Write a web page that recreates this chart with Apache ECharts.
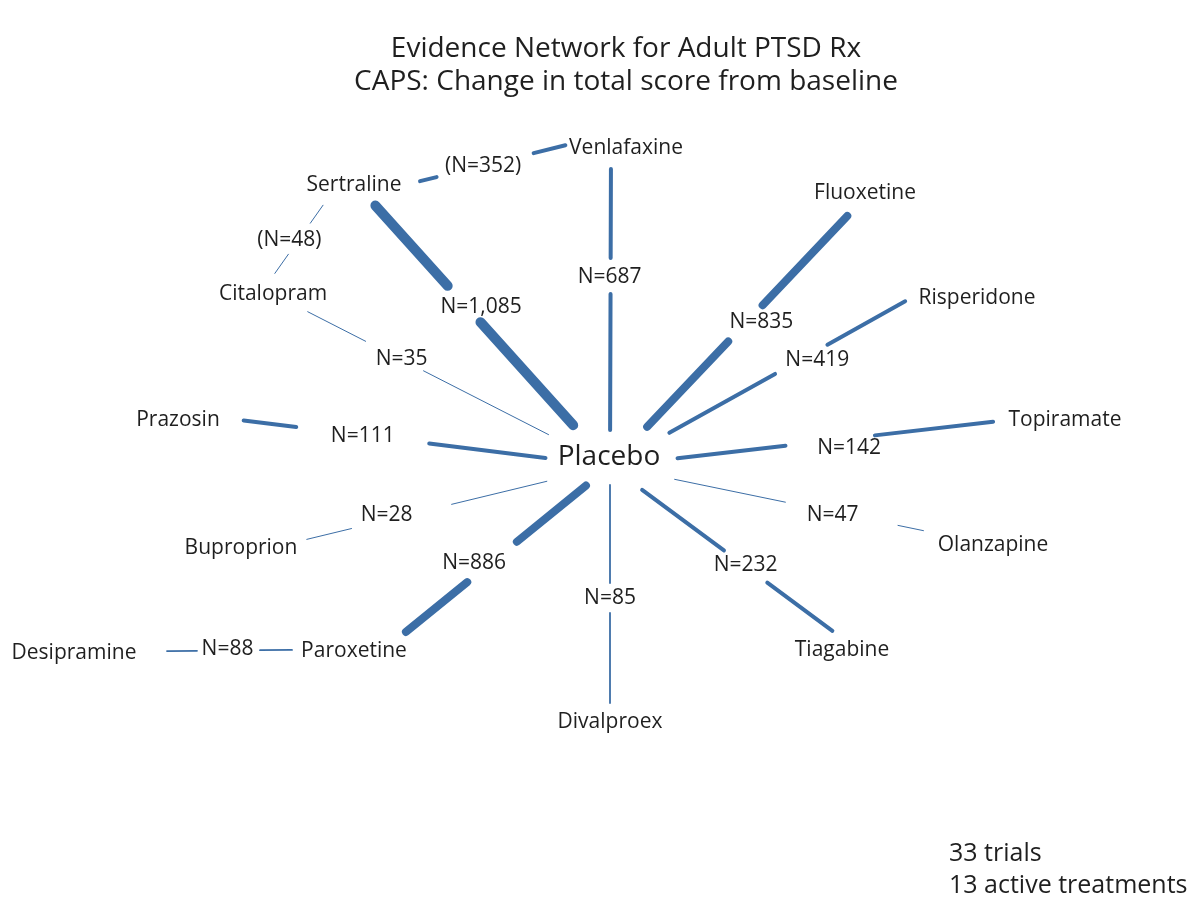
<!DOCTYPE html>
<html>
<head>
<meta charset="utf-8">
<script src="https://cdn.jsdelivr.net/npm/echarts@6/dist/echarts.min.js"></script>
<style>
  html, body { margin: 0; padding: 0; background: #ffffff; }
  #chart { width: 1195px; height: 899px; }
</style>
</head>
<body>
<div id="chart"></div>
<script>
// ---- Data -------------------------------------------------------------
// Treatments in the evidence network
const treatments = [
  'Placebo', 'Sertraline', 'Venlafaxine', 'Fluoxetine', 'Risperidone',
  'Topiramate', 'Olanzapine', 'Tiagabine', 'Divalproex', 'Paroxetine',
  'Desipramine', 'Buproprion', 'Prazosin', 'Citalopram'
];

// Direct comparisons: the two arms and the number of patients
const edgeFrom = [
  'Sertraline', 'Venlafaxine', 'Fluoxetine', 'Risperidone', 'Topiramate',
  'Olanzapine', 'Tiagabine', 'Divalproex', 'Paroxetine', 'Buproprion',
  'Prazosin', 'Citalopram', 'Sertraline', 'Sertraline', 'Desipramine'
];
const edgeTo = [
  'Placebo', 'Placebo', 'Placebo', 'Placebo', 'Placebo',
  'Placebo', 'Placebo', 'Placebo', 'Placebo', 'Placebo',
  'Placebo', 'Placebo', 'Venlafaxine', 'Citalopram', 'Paroxetine'
];
const edgeN = [1085, 687, 835, 419, 142, 47, 232, 85, 886, 28, 111, 35, 352, 48, 88];
// Head-to-head active comparisons whose counts are shown in brackets
const edgeBracketed = [false, false, false, false, false, false, false, false,
  false, false, false, false, true, true, false];

const titleText = 'Evidence Network for Adult PTSD Rx';
const subtitleText = 'CAPS: Change in total score from baseline';
const footnoteLines = ['33 trials', '13 active treatments'];

// ---- Layout -----------------------------------------------------------
// hub: where the node's lines meet; label: where its name is written
const nodeLayout = {
  Placebo:     { hub: [610, 466], label: [609, 457] },
  Sertraline:  { hub: [356, 184], label: [354, 185] },
  Venlafaxine: { hub: [611, 147], label: [626, 148] },
  Fluoxetine:  { hub: [870, 192], label: [865, 193] },
  Risperidone: { hub: [920, 293], label: [977, 298] },
  Topiramate:  { hub: [1008, 420], label: [1065, 420] },
  Olanzapine:  { hub: [993, 545], label: [993, 545] },
  Tiagabine:   { hub: [842, 638], label: [842, 650] },
  Divalproex:  { hub: [610, 721], label: [610, 722] },
  Paroxetine:  { hub: [385, 649], label: [354, 651] },
  Desipramine: { hub: [71, 652],  label: [74, 653] },
  Buproprion:  { hub: [300, 541], label: [241, 548] },
  Prazosin:    { hub: [200, 415], label: [178, 420] },
  Citalopram:  { hub: [273, 294], label: [273, 294] }
};

// Per edge: cut = [trim at start, break start, break end, trim at end] (px along the line),
// shift = nudge of the count label from the middle of the break,
// ports = optional offsets of the two attachment points from the hubs
const edgeLayout = [
  { cut: [24, 142, 181, 50], shift: [17, 3] },
  { cut: [20, 113, 145, 34], shift: [-1, 1] },
  { cut: [29, 160, 202, 50], shift: [16, -1] },
  { cut: [15, 108, 164, 66], shift: [16, 1] },
  { cut: [13, 136, 222, 66], shift: [19, 7] },
  { cut: [71, 97, 212, 66],  shift: [-9, 1] },
  { cut: [10, 95, 145, 38],  shift: [0, -2] },
  { cut: [18, 108, 138, 19], shift: [0, 0] },
  { cut: [23, 110, 166, 27], shift: [-18, 1] },
  { cut: [7, 53, 156, 65],   shift: [-15, -1] },
  { cut: [42, 99, 229, 63],  shift: [0, 1] },
  { cut: [39, 104, 169, 69], shift: [7, 3] },
  { cut: [64, 85, 181, 45],  shift: [-2, 1], ports: [0, 13, 0, -13] },
  { cut: [26, 48, 86, 24],   shift: [-10, 1], ports: [-18, 0, -12, -1] },
  { cut: [96, 126, 189, 93], shift: [-1, -1] }
];

// ---- Style ------------------------------------------------------------
const FONT = '"Open Sans", "Noto Sans", sans-serif';
const TEXT_COLOR = '#1f1f1f';
const EDGE_COLOR = '#3c6ea6';

// Line weight grows with the number of patients in the comparison
function edgeWidth(n) {
  if (n >= 1000) return 10;
  if (n >= 800) return 8;
  if (n >= 100) return 4;
  if (n >= 80) return 1.8;
  return 1;
}

function edgeLabel(i) {
  const s = 'N=' + edgeN[i].toLocaleString('en-US');
  return edgeBracketed[i] ? '(' + s + ')' : s;
}

function renderEdge(params, api) {
  const i = params.dataIndex;
  const lay = edgeLayout[i];
  const p = lay.ports || [0, 0, 0, 0];
  const A = nodeLayout[edgeFrom[i]].hub;
  const B = nodeLayout[edgeTo[i]].hub;
  const a = [A[0] + p[0], A[1] + p[1]];
  const b = [B[0] + p[2], B[1] + p[3]];
  const len = Math.hypot(b[0] - a[0], b[1] - a[1]);
  const u = [(b[0] - a[0]) / len, (b[1] - a[1]) / len];
  const at = d => api.coord([a[0] + u[0] * d, a[1] + u[1] * d]);
  const w = edgeWidth(edgeN[i]);
  const cap = w > 2 ? w / 2 : 0;
  const [t0, g0, g1, t1] = lay.cut;
  const s1 = at(t0 + cap), e1 = at(g0 - cap);
  const s2 = at(g1 + cap), e2 = at(len - t1 - cap);
  const mid = at((g0 + g1) / 2);
  const lineStyle = { stroke: EDGE_COLOR, lineWidth: w, lineCap: 'round' };
  return {
    type: 'group',
    children: [
      { type: 'line', shape: { x1: s1[0], y1: s1[1], x2: e1[0], y2: e1[1] }, style: lineStyle },
      { type: 'line', shape: { x1: s2[0], y1: s2[1], x2: e2[0], y2: e2[1] }, style: lineStyle },
      {
        type: 'text',
        x: mid[0] + lay.shift[0],
        y: mid[1] + lay.shift[1],
        style: {
          text: edgeLabel(i), fill: TEXT_COLOR, fontSize: 21, fontFamily: FONT,
          align: 'center', verticalAlign: 'middle'
        }
      }
    ]
  };
}

function renderNode(params, api) {
  const name = treatments[params.dataIndex];
  const pos = api.coord(nodeLayout[name].label);
  return {
    type: 'text',
    x: pos[0],
    y: pos[1],
    style: {
      text: name, fill: TEXT_COLOR,
      fontSize: name === 'Placebo' ? 28 : 21, fontFamily: FONT,
      align: 'center', verticalAlign: 'middle'
    }
  };
}

const chart = echarts.init(document.getElementById('chart'), null, { renderer: 'canvas' });

chart.setOption({
  backgroundColor: '#ffffff',
  animation: false,
  title: {
    text: titleText,
    subtext: subtitleText,
    left: 626,
    top: 33,
    textAlign: 'center',
    padding: 0,
    itemGap: 0,
    textStyle: { fontFamily: FONT, fontSize: 28, fontWeight: 'normal', color: TEXT_COLOR, lineHeight: 33 },
    subtextStyle: { fontFamily: FONT, fontSize: 28, fontWeight: 'normal', color: TEXT_COLOR, lineHeight: 33 }
  },
  grid: { left: 0, right: 0, top: 0, bottom: 0 },
  xAxis: { type: 'value', min: 0, max: 1195, show: false },
  yAxis: { type: 'value', min: 0, max: 899, inverse: true, show: false },
  graphic: [{
    type: 'text',
    left: 949,
    top: 838,
    style: {
      text: footnoteLines.join('\n'),
      fill: TEXT_COLOR, fontSize: 25, fontFamily: FONT, lineHeight: 32
    }
  }],
  series: [
    {
      name: 'Comparisons',
      type: 'custom',
      coordinateSystem: 'cartesian2d',
      renderItem: renderEdge,
      data: edgeN.map((n, i) => ({ name: edgeFrom[i] + ' vs ' + edgeTo[i], value: [i, n] })),
      z: 2
    },
    {
      name: 'Treatments',
      type: 'custom',
      coordinateSystem: 'cartesian2d',
      renderItem: renderNode,
      data: treatments.map((t, i) => ({ name: t, value: [i, 0] })),
      z: 3
    }
  ]
});
</script>
</body>
</html>
